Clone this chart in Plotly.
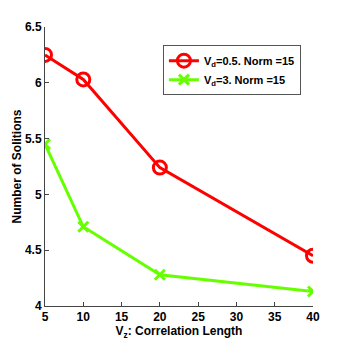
import plotly.graph_objects as go

corr_length = [5, 10, 20, 40]
solitons_vd05 = [6.25, 6.03, 5.24, 4.45]
solitons_vd3 = [5.45, 4.71, 4.28, 4.13]

x_ticks = [5, 10, 15, 20, 25, 30, 35, 40]
y_ticks = [4, 4.5, 5, 5.5, 6, 6.5]
y_tick_text = ["4", "4.5", "5", "5.5", "6", "6.5"]

FAMILY = "Liberation Sans, Arial, sans-serif"

fig = go.Figure()
fig.add_trace(go.Scatter(
    x=corr_length, y=solitons_vd05, mode="lines+markers",
    name="V<sub>d</sub>=0.5. Norm =15",
    line=dict(color="#ff0000", width=3),
    marker=dict(symbol="circle-open", size=13, color="#ff0000", line=dict(width=3)),
))
fig.add_trace(go.Scatter(
    x=corr_length, y=solitons_vd3, mode="lines+markers",
    name="V<sub>d</sub>=3. Norm =15",
    line=dict(color="#66ff00", width=3),
    marker=dict(symbol="x-thin-open", size=10, color="#66ff00", line=dict(width=3, color="#66ff00")),
))

# page body has an 8px margin, so the figure is offset by (8, 8)
fig.update_layout(
    width=346, height=346,
    margin=dict(l=37, r=41, t=19, b=48, autoexpand=False),
    paper_bgcolor="white", plot_bgcolor="white",
    font=dict(family=FAMILY, size=12, color="black", weight="bold"),
    showlegend=True,
    legend=dict(
        x=0.44, y=0.935, xanchor="left", yanchor="top",
        bgcolor="white", bordercolor="#555555", borderwidth=1,
        font=dict(family=FAMILY, size=11, color="black", weight="bold"),
        itemwidth=30, tracegroupgap=6,
    ),
)
fig.update_xaxes(
    range=[5, 40], tickvals=x_ticks, showgrid=False, zeroline=False,
    showline=True, linecolor="#444444", linewidth=1,
    ticks="inside", ticklen=4, tickcolor="#444444",
    title=dict(text="V<sub>z</sub>: Correlation Length", standoff=0,
               font=dict(family=FAMILY, size=12, weight="bold")),
)
fig.update_yaxes(
    range=[4, 6.5], tickvals=y_ticks, ticktext=y_tick_text, showgrid=False, zeroline=False,
    showline=True, linecolor="#444444", linewidth=1,
    ticks="inside", ticklen=4, tickcolor="#444444",
    title=dict(text="Number of Solitions", standoff=0,
               font=dict(family=FAMILY, size=12, weight="bold")),
)

fig.write_html("out.html")
